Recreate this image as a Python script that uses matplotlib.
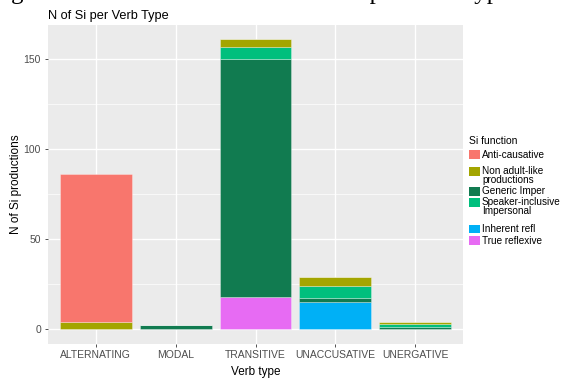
import matplotlib
matplotlib.use("Agg")
import matplotlib.pyplot as plt
from matplotlib.patches import Rectangle
import numpy as np

plt.rcParams['font.family'] = ['Liberation Sans', 'DejaVu Sans']

categories = ["ALTERNATING", "MODAL", "TRANSITIVE", "UNACCUSATIVE", "UNERGATIVE"]
# stacked from bottom to top
true_reflexive = [0, 0, 18, 0, 0]
inherent_refl = [0, 0, 0, 15, 0]
generic_imper = [0, 2, 132, 2, 1]
speaker_incl = [0, 0, 7, 7, 2]
non_adult = [4, 0, 4, 5, 1]
anti_causative = [82, 0, 0, 0, 0]

series = [
    ("True reflexive", true_reflexive, "#E76BF3"),
    ("Inherent refl", inherent_refl, "#00B0F6"),
    ("Generic Imper", generic_imper, "#117B50"),
    ("Speaker-inclusive\nImpersonal", speaker_incl, "#00BF7D"),
    ("Non adult-like\nproductions", non_adult, "#A3A500"),
    ("Anti-causative", anti_causative, "#F8766D"),
]
legend_order = ["Anti-causative", "Non adult-like\nproductions", "Generic Imper",
                "Speaker-inclusive\nImpersonal", "Inherent refl", "True reflexive"]

W, H = 563, 378
fig = plt.figure(figsize=(W / 100, H / 100), dpi=100)
fig.patch.set_facecolor("white")

L, R, T, B = 48, 463, 25, 343.5
ax = fig.add_axes([L / W, 1 - B / H, (R - L) / W, (B - T) / H])
ax.set_facecolor("#EBEBEB")

x = np.arange(len(categories))
bottom = np.zeros(len(categories))
for name, vals, col in series:
    v = np.array(vals, dtype=float)
    ax.bar(x, v, width=0.9, bottom=bottom, color=col,
           edgecolor=(1, 1, 1, 0.35), linewidth=0.6, zorder=3)
    bottom += v

total = bottom.max()
ax.set_xlim(-0.6, len(categories) - 0.4)
ax.set_ylim(-0.05 * total, total * 1.05)

ax.set_yticks([0, 50, 100, 150])
ax.set_yticks([25, 75, 125], minor=True)
ax.set_xticks(x)
ax.set_xticklabels(categories)
ax.grid(which="major", color="white", linewidth=1.0, zorder=0)
ax.grid(which="minor", axis="y", color="white", linewidth=0.5, zorder=0)
ax.set_axisbelow(True)
for s in ax.spines.values():
    s.set_visible(False)
ax.tick_params(which="major", length=2.5, width=0.6, color="#333333",
               labelsize=7.5, labelcolor="#4D4D4D", pad=2.5)
ax.tick_params(which="minor", length=0)

ax.set_ylabel("N of Si productions", fontsize=8.5, color="black", labelpad=1)
ax.set_xlabel("Verb type", fontsize=8.5, color="black", labelpad=4)

fig.text(L / W, 1 - 16 / H, "N of Si per Verb Type", fontsize=9.2,
         ha="left", va="center", color="black")

# cropped document caption at the very top (only descenders visible)
fig.text(-10 / W, 1 + 0.5 / H, "Figure 3: Number of Si constructions per Verb Type",
         fontsize=18, family="Liberation Serif", ha="left", va="baseline",
         color="black")

# legend
fig.text(469 / W, 1 - 141 / H, "Si function", fontsize=7.5, ha="left", va="center")
key_tops = [150, 167, 187, 198, 225, 236]
cmap = {n: c for n, _, c in series}
for name, kt in zip(legend_order, key_tops):
    fig.patches.append(Rectangle((469 / W, 1 - (kt + 8.5) / H), 11 / W, 8.5 / H,
                                 transform=fig.transFigure, facecolor=cmap[name],
                                 edgecolor="none"))
    fig.text(482 / W, 1 - (kt - 0.5) / H, name, fontsize=7.2, ha="left", va="top",
             linespacing=0.8, color="black")

fig.savefig("out.png", dpi=100)
